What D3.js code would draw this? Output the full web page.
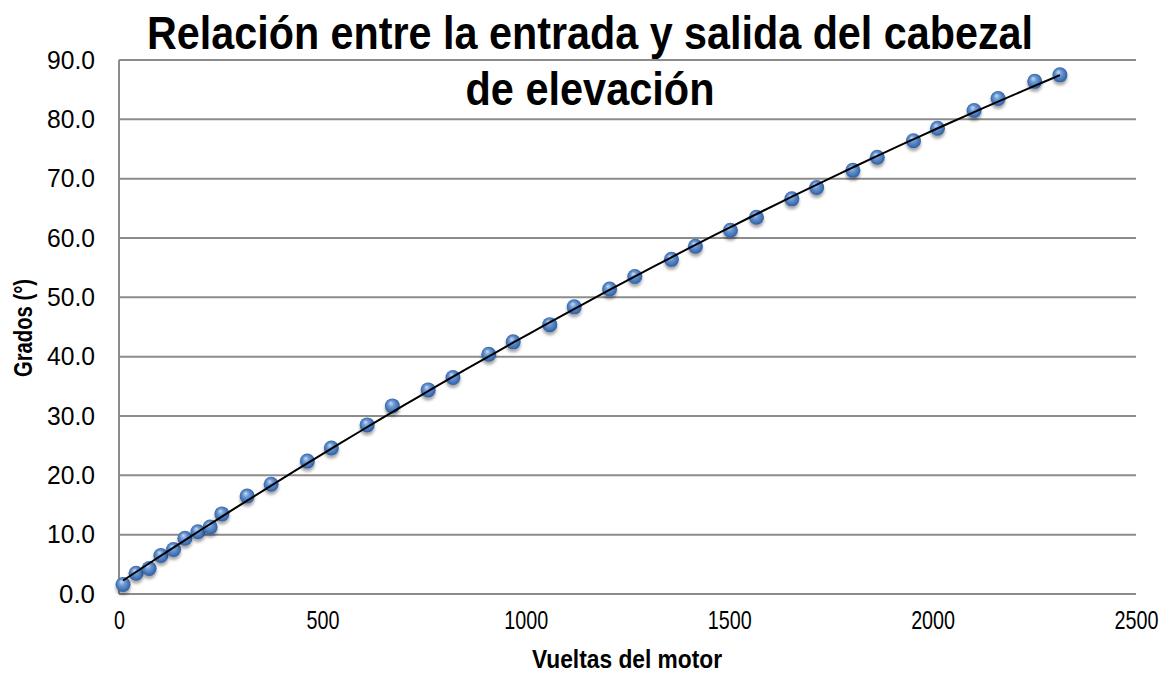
<!DOCTYPE html>
<html>
<head>
<meta charset="utf-8">
<script src="https://cdn.jsdelivr.net/npm/d3@7"></script>
<style>
	body { margin: 0; background: #fff; }
	text { font-family: "Liberation Sans Narrow", "Liberation Sans", Arial, sans-serif; }
</style>
</head>
<body>
<svg id="chart" width="1166" height="676"></svg>
<script>
// data
var vueltas = [10, 42, 74, 103, 134, 162, 194, 224, 253, 315, 374, 463, 522, 610, 672, 760, 821, 909, 969, 1059, 1119, 1206, 1268, 1358, 1417, 1503, 1567, 1654, 1715, 1804, 1864, 1953, 2012, 2102, 2161, 2251, 2313];
var grados = [1.6, 3.5, 4.3, 6.5, 7.5, 9.4, 10.5, 11.3, 13.5, 16.5, 18.5, 22.4, 24.6, 28.5, 31.7, 34.4, 36.5, 40.4, 42.5, 45.4, 48.4, 51.4, 53.5, 56.4, 58.6, 61.3, 63.5, 66.6, 68.5, 71.4, 73.6, 76.4, 78.5, 81.5, 83.5, 86.4, 87.5];
var xTicks = [0, 500, 1000, 1500, 2000, 2500];
var yTicks = [0, 10, 20, 30, 40, 50, 60, 70, 80, 90];
var titleLines = ["Relación entre la entrada y salida del cabezal", "de elevación"];

var margin = { top: 60, right: 30, bottom: 82, left: 119 };
var width = 1166 - margin.left - margin.right;
var height = 676 - margin.top - margin.bottom;

var svg = d3.select("#chart");
var defs = svg.append("defs");

// shaded sphere look for the markers
var grad = defs.append("radialGradient")
	.attr("id", "ball")
	.attr("cx", "50%").attr("cy", "50%").attr("r", "55%")
	.attr("fx", "38%").attr("fy", "30%");
grad.append("stop").attr("offset", "0%").attr("stop-color", "#c9dcf5");
grad.append("stop").attr("offset", "35%").attr("stop-color", "#6f9bd6");
grad.append("stop").attr("offset", "80%").attr("stop-color", "#3d6db0");
grad.append("stop").attr("offset", "100%").attr("stop-color", "#2a5190");

var shadow = defs.append("filter")
	.attr("id", "shadow")
	.attr("x", "-50%").attr("y", "-50%").attr("width", "200%").attr("height", "220%");
shadow.append("feDropShadow")
	.attr("dx", 0).attr("dy", 3)
	.attr("stdDeviation", 1.8)
	.attr("flood-color", "#000")
	.attr("flood-opacity", 0.35);

var g = svg.append("g").attr("transform", "translate(" + margin.left + "," + margin.top + ")");

// scales
var xScale = d3.scaleLinear().domain([0, 2500]).range([0, width]);
var yScale = d3.scaleLinear().domain([0, 90]).range([height, 0]);

// grid lines
g.append("g")
	.attr("class", "grid")
	.selectAll("line")
	.data(yTicks)
	.enter()
	.append("line")
	.attr("x1", 0)
	.attr("x2", width)
	.attr("y1", function(d) { return yScale(d); })
	.attr("y2", function(d) { return yScale(d); })
	.style("stroke", "#8c8c8c")
	.style("stroke-width", 2);

// left axis line
g.append("line")
	.attr("x1", 0).attr("x2", 0)
	.attr("y1", 0).attr("y2", height)
	.style("stroke", "#8c8c8c")
	.style("stroke-width", 2);

// axes (labels only)
var yAxis = d3.axisLeft(yScale)
	.tickValues(yTicks)
	.tickSize(0)
	.tickPadding(24)
	.tickFormat(d3.format(".1f"));
var xAxis = d3.axisBottom(xScale)
	.tickValues(xTicks)
	.tickSize(0)
	.tickPadding(17)
	.tickFormat(d3.format("d"));

g.append("g")
	.attr("class", "axis y")
	.call(yAxis);
g.append("g")
	.attr("class", "axis x")
	.attr("transform", "translate(0," + height + ")")
	.call(xAxis);

g.selectAll(".axis .domain").remove();
g.selectAll(".axis text")
	.style("fill", "#000");
g.selectAll(".axis.y text")
	.style("font-size", "26px")
	.attr("textLength", function(d) { return d >= 10 ? 48 : 36; })
	.attr("lengthAdjust", "spacingAndGlyphs");
// condensed look for the x labels
g.selectAll(".axis.x text")
	.style("font-size", "26px")
	.attr("transform", "scale(0.76,1)");

// trend line (2nd order least squares on the points)
function polyFit2(xs, ys) {
	var s = [0, 0, 0, 0, 0], t = [0, 0, 0];
	xs.forEach(function(x, i) {
		var p = 1;
		for (var k = 0; k < 5; k++) {
			s[k] += p;
			if (k < 3) t[k] += p * ys[i];
			p *= x;
		}
	});
	var m = [[s[0], s[1], s[2], t[0]], [s[1], s[2], s[3], t[1]], [s[2], s[3], s[4], t[2]]];
	for (var c = 0; c < 3; c++) {
		for (var r = c + 1; r < 3; r++) {
			var f = m[r][c] / m[c][c];
			for (var j = c; j < 4; j++) m[r][j] -= f * m[c][j];
		}
	}
	var a = [0, 0, 0];
	for (var r2 = 2; r2 >= 0; r2--) {
		var sum = m[r2][3];
		for (var j2 = r2 + 1; j2 < 3; j2++) sum -= m[r2][j2] * a[j2];
		a[r2] = sum / m[r2][r2];
	}
	return a;
}
var coef = polyFit2(vueltas, grados);
var xMin = d3.min(vueltas), xMax = d3.max(vueltas);
var trend = d3.range(0, 61).map(function(i) {
	var x = xMin + (xMax - xMin) * i / 60;
	return [x, coef[0] + coef[1] * x + coef[2] * x * x];
});

// points
var points = vueltas.map(function(v, i) { return { x: v, y: grados[i] }; });
g.append("g")
	.attr("class", "points")
	.selectAll("circle")
	.data(points)
	.enter()
	.append("circle")
	.attr("cx", function(d) { return xScale(d.x); })
	.attr("cy", function(d) { return yScale(d.y); })
	.attr("r", 7.5)
	.style("fill", "url(#ball)")
	.attr("filter", "url(#shadow)");

g.append("path")
	.datum(trend)
	.attr("d", d3.line()
		.x(function(d) { return xScale(d[0]); })
		.y(function(d) { return yScale(d[1]); }))
	.style("fill", "none")
	.style("stroke", "#000")
	.style("stroke-width", 2);

// title
svg.append("text")
	.attr("x", 590).attr("y", 49)
	.attr("text-anchor", "middle")
	.attr("textLength", 886)
	.attr("lengthAdjust", "spacingAndGlyphs")
	.style("font-size", "46px")
	.style("font-weight", "bold")
	.text(titleLines[0]);
svg.append("text")
	.attr("x", 590).attr("y", 105)
	.attr("text-anchor", "middle")
	.attr("textLength", 249)
	.attr("lengthAdjust", "spacingAndGlyphs")
	.style("font-size", "46px")
	.style("font-weight", "bold")
	.text(titleLines[1]);

// axis titles
svg.append("text")
	.attr("transform", "translate(32," + 328 + ") rotate(-90)")
	.attr("text-anchor", "middle")
	.attr("textLength", 98)
	.attr("lengthAdjust", "spacingAndGlyphs")
	.style("font-size", "25px")
	.style("font-weight", "bold")
	.text("Grados (°)");
svg.append("text")
	.attr("x", 627)
	.attr("y", 668)
	.attr("text-anchor", "middle")
	.attr("textLength", 190)
	.attr("lengthAdjust", "spacingAndGlyphs")
	.style("font-size", "25px")
	.style("font-weight", "bold")
	.text("Vueltas del motor");
</script>
</body>
</html>
